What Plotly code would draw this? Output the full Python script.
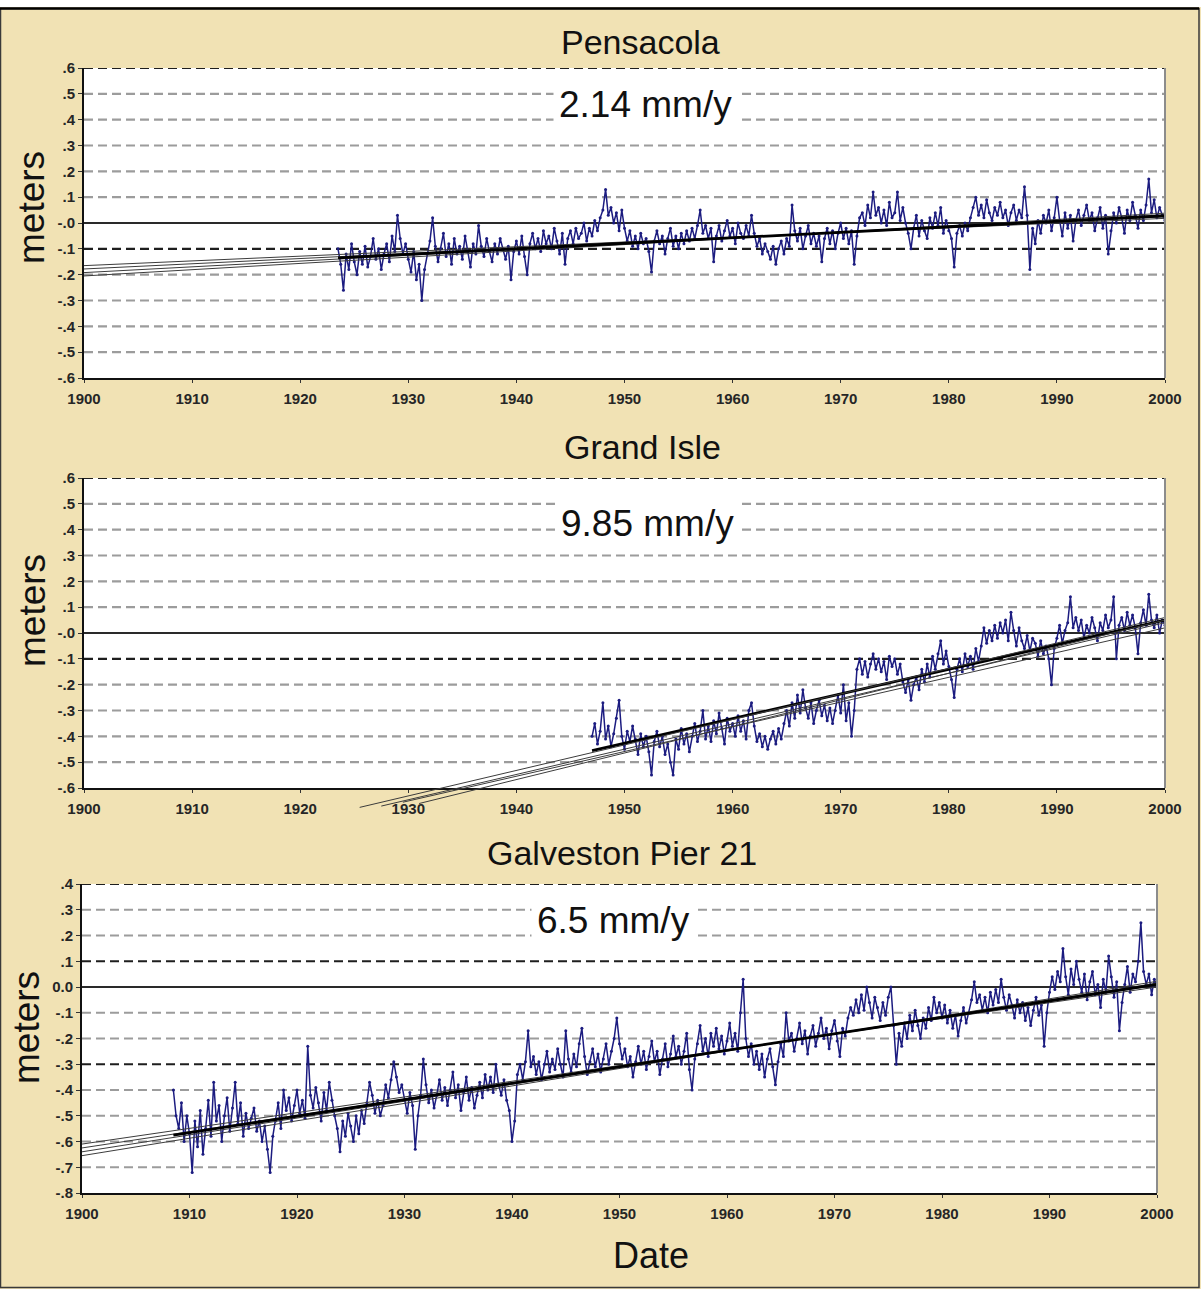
import numpy as np
import plotly.graph_objects as go

# ---------------- data ----------------
pens_start, pens_step = 1923.5, 0.25
pens_level = [
    -0.10, -0.16,
    -0.26, -0.12, -0.18, -0.08,  -0.15, -0.20, -0.11, -0.16,  -0.09, -0.17, -0.13, -0.06,
    -0.14, -0.10, -0.18, -0.12,  -0.08, -0.15, -0.05, -0.11,  0.03, -0.06, -0.12, -0.08,
    -0.14, -0.19, -0.11, -0.22,  -0.16, -0.30, -0.18, -0.12,  -0.07, 0.02, -0.09, -0.15,
    -0.10, -0.04, -0.13, -0.08,  -0.16, -0.06, -0.12, -0.09,  -0.14, -0.05, -0.11, -0.17,
    -0.08, -0.12, -0.01, -0.09,  -0.13, -0.06, -0.11, -0.15,  -0.08, -0.12, -0.06, -0.10,
    -0.14, -0.09, -0.22, -0.11,  -0.07, -0.12, -0.05, -0.13,  -0.20, -0.08, -0.04, -0.10,
    -0.06, -0.11, -0.03, -0.08,  -0.05, -0.10, -0.02, -0.07,  -0.12, -0.04, -0.16, -0.06,
    -0.03, -0.08, -0.02, -0.06,  -0.04, 0.00, -0.07, -0.02,  -0.05, 0.01, -0.03, 0.02,
    0.05, 0.13, 0.03, 0.06,  0.00, 0.04, -0.03, 0.05,  -0.02, -0.07, -0.03, -0.09,
    -0.05, -0.10, -0.04, -0.08,  -0.06, -0.11, -0.19, -0.07,  -0.03, -0.08, -0.05, -0.12,
    -0.06, -0.02, -0.09, -0.05,  -0.10, -0.04, -0.08, -0.03,  -0.07, -0.02, -0.06, -0.01,
    0.05, -0.04, -0.01, -0.06,  -0.02, -0.15, -0.05, -0.01,  -0.07, -0.03, 0.01, -0.05,
    -0.02, -0.08, 0.00, -0.04,  -0.06, -0.01, -0.05, 0.03,  -0.04, -0.09, -0.06, -0.12,
    -0.08, -0.11, -0.14, -0.09,  -0.16, -0.10, -0.07, -0.12,  -0.06, -0.09, 0.07, -0.03,
    -0.07, -0.02, -0.10, -0.05,  -0.01, -0.08, -0.04, -0.09,  -0.05, -0.15, -0.06, -0.02,
    -0.08, -0.03, -0.10, -0.04,  0.00, -0.06, -0.02, -0.08,  -0.03, -0.16, -0.05, 0.02,
    0.04, -0.01, 0.07, 0.02,  0.12, 0.03, 0.06, 0.00,  0.05, -0.01, 0.08, 0.02,
    0.04, 0.12, 0.01, 0.06,  0.00, -0.04, -0.10, -0.02,  0.03, -0.05, 0.01, -0.03,
    -0.06, 0.02, -0.02, 0.04,  -0.01, 0.06, -0.04, 0.01,  -0.03, -0.06, -0.17, -0.04,
    -0.01, -0.05, 0.00, -0.03,  0.02, 0.06, 0.10, 0.03,  0.07, 0.02, 0.09, 0.04,
    0.01, 0.06, 0.03, 0.08,  0.02, 0.05, -0.01, 0.04,  0.07, 0.01, 0.05, 0.02,
    0.14, 0.03, -0.18, -0.02,  -0.08, 0.01, -0.04, 0.03,  0.00, 0.05, -0.03, 0.02,
    0.10, 0.01, -0.05, 0.04,  -0.02, 0.03, -0.07, 0.01,  0.05, -0.01, 0.03, 0.07,
    0.01, 0.04, -0.03, 0.02,  0.06, -0.02, 0.03, -0.12,  -0.03, 0.04, 0.00, 0.06,
    0.02, -0.04, 0.05, 0.01,  0.08, 0.03, -0.02, 0.05,  0.01, 0.07, 0.17, 0.04,
    0.09, 0.02, 0.06, 0.03,
    0.01,
]

grand_start, grand_step = 1947.0, 0.25
grand_level = [
    -0.40, -0.35, -0.43, -0.38,  -0.27, -0.41, -0.36, -0.44,  -0.39, -0.33, -0.26, -0.40,
    -0.45, -0.38, -0.42, -0.36,  -0.41, -0.47, -0.39, -0.44,  -0.40, -0.46, -0.55, -0.42,
    -0.38, -0.44, -0.40, -0.47,  -0.43, -0.50, -0.55, -0.41,  -0.45, -0.37, -0.43, -0.39,
    -0.46, -0.40, -0.35, -0.42,  -0.38, -0.30, -0.41, -0.36,  -0.42, -0.34, -0.39, -0.31,
    -0.37, -0.43, -0.33, -0.38,  -0.35, -0.40, -0.32, -0.38,  -0.34, -0.41, -0.30, -0.27,
    -0.36, -0.42, -0.39, -0.44,  -0.40, -0.45, -0.41, -0.38,  -0.43, -0.37, -0.41, -0.35,
    -0.30, -0.36, -0.27, -0.33,  -0.24, -0.31, -0.22, -0.29,  -0.33, -0.27, -0.35, -0.30,
    -0.26, -0.32, -0.28, -0.34,  -0.29, -0.35, -0.30, -0.24,  -0.31, -0.20, -0.34, -0.27,
    -0.40, -0.30, -0.14, -0.10,  -0.16, -0.11, -0.17, -0.12,  -0.08, -0.14, -0.10, -0.15,
    -0.11, -0.18, -0.09, -0.13,  -0.10, -0.16, -0.12, -0.19,  -0.23, -0.18, -0.26, -0.20,
    -0.17, -0.22, -0.14, -0.19,  -0.12, -0.17, -0.09, -0.14,  -0.08, -0.03, -0.12, -0.07,
    -0.13, -0.18, -0.25, -0.14,  -0.10, -0.15, -0.08, -0.13,  -0.09, -0.14, -0.06, -0.11,
    -0.05, 0.02, -0.04, 0.01,  -0.03, 0.03, -0.02, 0.04,  0.00, 0.05, -0.03, 0.08,
    0.01, -0.05, 0.02, -0.03,  -0.06, -0.01, -0.07, -0.02,  -0.04, -0.09, -0.03, -0.08,
    -0.05, -0.10, -0.20, -0.06,  -0.02, 0.03, -0.04, 0.01,  0.04, 0.14, 0.02, 0.06,
    0.01, 0.05, -0.02, 0.03,  0.00, 0.06, 0.02, -0.03,  0.04, 0.01, 0.07, 0.02,
    0.05, 0.14, -0.10, 0.03,  0.06, 0.01, 0.08, 0.03,  0.07, 0.02, -0.08, 0.04,
    0.09, 0.03, 0.15, 0.05,  0.02, 0.07, 0.00, 0.05,
    0.03,
]

galv_start, galv_step = 1908.5, 0.25
galv_level = [
    -0.40, -0.50,
    -0.55, -0.45, -0.60, -0.50,  -0.57, -0.72, -0.52, -0.62,  -0.48, -0.65, -0.55, -0.44,
    -0.58, -0.37, -0.52, -0.46,  -0.60, -0.50, -0.43, -0.56,  -0.47, -0.37, -0.53, -0.45,
    -0.58, -0.49, -0.55, -0.51,  -0.47, -0.56, -0.52, -0.60,  -0.54, -0.63, -0.72, -0.58,
    -0.52, -0.45, -0.55, -0.40,  -0.48, -0.43, -0.52, -0.46,  -0.40, -0.49, -0.44, -0.51,
    -0.23, -0.42, -0.47, -0.39,  -0.45, -0.52, -0.41, -0.48,  -0.37, -0.44, -0.50, -0.55,
    -0.64, -0.52, -0.58, -0.49,  -0.54, -0.60, -0.50, -0.57,  -0.48, -0.53, -0.45, -0.37,
    -0.42, -0.49, -0.44, -0.50,  -0.46, -0.38, -0.43, -0.36,  -0.29, -0.35, -0.41, -0.38,
    -0.44, -0.49, -0.41, -0.46,  -0.63, -0.50, -0.42, -0.28,  -0.38, -0.45, -0.40, -0.47,
    -0.42, -0.36, -0.44, -0.39,  -0.46, -0.40, -0.33, -0.43,  -0.38, -0.48, -0.41, -0.35,
    -0.44, -0.39, -0.47, -0.42,  -0.37, -0.43, -0.34, -0.40,  -0.35, -0.41, -0.30, -0.38,
    -0.42, -0.36, -0.44, -0.48,  -0.60, -0.52, -0.34, -0.30,  -0.36, -0.29, -0.17, -0.31,
    -0.27, -0.34, -0.29, -0.36,  -0.30, -0.25, -0.33, -0.28,  -0.32, -0.24, -0.30, -0.35,
    -0.17, -0.28, -0.33, -0.26,  -0.31, -0.22, -0.16, -0.27,  -0.34, -0.29, -0.24, -0.31,
    -0.26, -0.33, -0.28, -0.22,  -0.30, -0.25, -0.20, -0.12,  -0.22, -0.28, -0.24, -0.31,
    -0.27, -0.35, -0.29, -0.23,  -0.30, -0.25, -0.32, -0.27,  -0.21, -0.29, -0.25, -0.34,
    -0.28, -0.22, -0.31, -0.26,  -0.19, -0.27, -0.23, -0.30,  -0.25, -0.18, -0.32, -0.40,
    -0.28, -0.22, -0.15, -0.25,  -0.20, -0.27, -0.18, -0.23,  -0.16, -0.24, -0.19, -0.26,
    -0.21, -0.14, -0.23, -0.18,  -0.25, -0.10, 0.03, -0.20,  -0.27, -0.22, -0.30, -0.25,
    -0.32, -0.26, -0.35, -0.28,  -0.24, -0.31, -0.38, -0.29,  -0.22, -0.27, -0.10, -0.21,
    -0.18, -0.25, -0.20, -0.14,  -0.22, -0.17, -0.26, -0.19,  -0.15, -0.23, -0.18, -0.12,
    -0.20, -0.16, -0.24, -0.17,  -0.13, -0.21, -0.27, -0.16,  -0.19, -0.12, -0.08, -0.11,
    -0.05, -0.10, -0.03, -0.09,  0.00, -0.06, -0.12, -0.04,  -0.08, -0.13, -0.06, -0.11,
    -0.04, 0.00, -0.15, -0.30,  -0.18, -0.23, -0.14, -0.20,  -0.11, -0.17, -0.09, -0.15,
    -0.20, -0.12, -0.16, -0.08,  -0.13, -0.04, -0.10, -0.06,  -0.12, -0.07, -0.14, -0.09,
    -0.16, -0.11, -0.19, -0.13,  -0.08, -0.14, -0.10, -0.05,  0.02, -0.06, -0.03, -0.09,
    -0.04, -0.10, -0.02, -0.07,  -0.01, -0.06, 0.03, -0.04,  -0.09, -0.03, -0.07, -0.12,
    -0.05, -0.10, -0.06, -0.13,  -0.08, -0.15, -0.09, -0.04,  -0.11, -0.07, -0.23, -0.10,
    -0.02, 0.04, -0.01, 0.06,  0.02, 0.15, 0.04, -0.03,  0.07, 0.01, 0.10, 0.03,
    -0.02, 0.05, -0.05, 0.02,  0.06, -0.03, 0.01, -0.08,  0.03, -0.02, 0.12, 0.04,
    -0.04, 0.02, -0.17, -0.06,  0.01, 0.08, -0.02, 0.05,  0.02, 0.10, 0.25, 0.06,
    0.01, 0.05, -0.03, 0.03,
    0.00,
]

# fitted trend (thick) and confidence-fan (thin) line end points
pens_trend_years = [1923.5, 2000.0]
pens_trend_vals = [-0.135, 0.028]
pens_fan_start_years = [1900.0, 1900.0, 1900.0, 1900.0]
pens_fan_starts = [-0.165, -0.178, -0.192, -0.205]
pens_fan_ends = [0.018, 0.024, 0.031, 0.038]

grand_trend_years = [1947.0, 2000.0]
grand_trend_vals = [-0.455, 0.05]
grand_fan_start_years = [1925.5, 1927.5, 1929.5, 1931.0]
grand_fan_starts = [-0.675, -0.67, -0.655, -0.66]
grand_fan_ends = [0.06, 0.04, 0.02, 0.05]

galv_trend_years = [1908.5, 2000.0]
galv_trend_vals = [-0.575, 0.01]
galv_fan_start_years = [1900.0, 1900.0, 1900.0, 1900.0]
galv_fan_starts = [-0.61, -0.625, -0.64, -0.655]
galv_fan_ends = [0.0, 0.007, 0.015, 0.022]

titles = ["Pensacola", "Grand Isle", "Galveston Pier 21"]
rates = ["2.14 mm/y", "9.85 mm/y", "6.5 mm/y"]

x_tickvals = [1900, 1910, 1920, 1930, 1940, 1950, 1960, 1970, 1980, 1990, 2000]
x_ticktext = ["1900", "1910", "1920", "1930", "1940", "1950", "1960", "1970", "1980", "1990", "2000"]

y_tickvals_a = [0.6, 0.5, 0.4, 0.3, 0.2, 0.1, 0.0, -0.1, -0.2, -0.3, -0.4, -0.5, -0.6]
y_ticktext_a = [".6", ".5", ".4", ".3", ".2", ".1", "-.0", "-.1", "-.2", "-.3", "-.4", "-.5", "-.6"]
y_tickvals_c = [0.4, 0.3, 0.2, 0.1, 0.0, -0.1, -0.2, -0.3, -0.4, -0.5, -0.6, -0.7, -0.8]
y_ticktext_c = [".4", ".3", ".2", ".1", "0.0", "-.1", "-.2", "-.3", "-.4", "-.5", "-.6", "-.7", "-.8"]

dark_grid = [[0.6, -0.1], [0.6, -0.1], [0.4, 0.1, -0.3]]

# ---------------- layout geometry ----------------
W, H = 1201, 1289
ML, MR, MT, MB = 82, 36, 68, 96
PW, PH = W - ML - MR, H - MT - MB


def px_x(px):
    return (px - ML) / PW


def px_y(py):
    return (H - MB - py) / PH


panels = [
    dict(xd=[px_x(84), px_x(1165)], yd=[px_y(378), px_y(68)], yr=[-0.6, 0.6],
         tv=y_tickvals_a, tt=y_ticktext_a),
    dict(xd=[px_x(84), px_x(1165)], yd=[px_y(788), px_y(478)], yr=[-0.6, 0.6],
         tv=y_tickvals_a, tt=y_ticktext_a),
    dict(xd=[px_x(82), px_x(1157)], yd=[px_y(1193), px_y(884)], yr=[-0.8, 0.4],
         tv=y_tickvals_c, tt=y_ticktext_c),
]

series = [
    (pens_start, pens_step, pens_level, pens_trend_years, pens_trend_vals,
     pens_fan_start_years, pens_fan_starts, pens_fan_ends),
    (grand_start, grand_step, grand_level, grand_trend_years, grand_trend_vals,
     grand_fan_start_years, grand_fan_starts, grand_fan_ends),
    (galv_start, galv_step, galv_level, galv_trend_years, galv_trend_vals,
     galv_fan_start_years, galv_fan_starts, galv_fan_ends),
]

FONT = "Liberation Sans, Arial, sans-serif"
BEIGE = "#f1e2b4"
DATA_COL = "#1c1c80"

fig = go.Figure()
layout = dict(
    width=W, height=H,
    margin=dict(l=ML, r=MR, t=MT, b=MB, pad=0),
    paper_bgcolor=BEIGE,
    plot_bgcolor="rgba(0,0,0,0)",
    showlegend=False,
    font=dict(family=FONT, color="#111"),
)
shapes = []
annotations = []

# extended (invisible) axis for Grand Isle so its fan lines can run below the frame
ext_px = 30
p2 = panels[1]
val_per_px = (p2["yr"][1] - p2["yr"][0]) / 310.0
y4_domain = [p2["yd"][0] - ext_px / PH, p2["yd"][1]]
y4_range = [p2["yr"][0] - ext_px * val_per_px, p2["yr"][1]]

TICKFONT = dict(family=FONT, size=15, color="#262626", weight="bold")

for i, (p, s) in enumerate(zip(panels, series)):
    n = i + 1
    xa = "x" if n == 1 else f"x{n}"
    ya = "y" if n == 1 else f"y{n}"
    xkey = "xaxis" if n == 1 else f"xaxis{n}"
    ykey = "yaxis" if n == 1 else f"yaxis{n}"
    start, step, level, tyears, tvals, fyears, fstarts, fends = s
    years = start + step * np.arange(len(level))

    fig.add_trace(go.Scatter(
        x=years, y=level, mode="lines+markers",
        line=dict(color=DATA_COL, width=1.5),
        marker=dict(color=DATA_COL, size=3),
        xaxis=xa, yaxis=ya, hoverinfo="skip"))

    fan_y = "y4" if n == 2 else ya
    for fy, fs, fe in zip(fyears, fstarts, fends):
        fig.add_trace(go.Scatter(
            x=[fy, 2000.0], y=[fs, fe], mode="lines",
            line=dict(color="#3c3c3c", width=1),
            xaxis=xa, yaxis=fan_y, hoverinfo="skip"))
    fig.add_trace(go.Scatter(
        x=tyears, y=tvals, mode="lines",
        line=dict(color="#000000", width=2.8),
        xaxis=xa, yaxis=ya, hoverinfo="skip"))

    layout[xkey] = dict(
        domain=p["xd"], anchor=ya, range=[1900, 2000],
        tickvals=x_tickvals, ticktext=x_ticktext,
        ticks="outside", ticklen=3, tickcolor="#333", tickwidth=1,
        ticklabelstandoff=3,
        tickfont=TICKFONT,
        showgrid=False, zeroline=False,
        showline=True, linecolor="#111", linewidth=2, mirror=False,
    )
    layout[ykey] = dict(
        domain=p["yd"], anchor=xa, range=p["yr"],
        tickvals=p["tv"], ticktext=p["tt"],
        ticks="outside", ticklen=4, tickcolor="#333", tickwidth=1,
        tickfont=TICKFONT,
        showgrid=False, zeroline=False,
        showline=True, linecolor="#111", linewidth=2, mirror=False,
    )

    # white plot background
    shapes.append(dict(type="rect", xref=f"{xa} domain", yref=f"{ya} domain",
                       x0=0, x1=1, y0=0, y1=1, fillcolor="white",
                       line=dict(width=0), layer="below"))
    # horizontal grid lines
    for v in p["tv"]:
        if abs(v - p["yr"][0]) < 1e-9:
            continue
        if abs(v) < 1e-9:
            ln = dict(color="#2a2a2a", width=2)
        elif any(abs(v - d) < 1e-9 for d in dark_grid[i]):
            ln = dict(color="#1e1e1e", width=2.2, dash="9px,5px")
        else:
            ln = dict(color="#9c9c9c", width=2.2, dash="9px,5px")
        shapes.append(dict(type="line", xref=f"{xa} domain", yref=ya,
                           x0=0, x1=1, y0=v, y1=v, line=ln, layer="below"))
    # right frame edge
    shapes.append(dict(type="line", xref=f"{xa} domain", yref=f"{ya} domain",
                       x0=1, x1=1, y0=0, y1=1,
                       line=dict(color="#8c8c8c", width=2), layer="above"))

layout["yaxis4"] = dict(domain=y4_domain, range=y4_range, anchor="x2",
                        visible=False, showgrid=False, zeroline=False)

# outer frame of the picture
shapes.append(dict(type="rect", xref="paper", yref="paper",
                   x0=px_x(-5), x1=px_x(W + 5), y0=px_y(7), y1=px_y(-5),
                   fillcolor="white", line=dict(width=0), layer="below"))
shapes.append(dict(type="rect", xref="paper", yref="paper",
                   x0=px_x(0.5), x1=px_x(1199), y0=px_y(1287.5), y1=px_y(8.5),
                   fillcolor="rgba(0,0,0,0)", line=dict(color="#3a3a3a", width=1.5),
                   layer="below"))
shapes.append(dict(type="line", xref="paper", yref="paper",
                   x0=px_x(0), x1=px_x(1199), y0=px_y(8.5), y1=px_y(8.5),
                   line=dict(color="#000", width=2.5), layer="below"))

# titles, rate labels, axis titles
title_pos = [(640, 42), (642, 447), (622, 853)]
rate_pos = [(645, 104), (647, 523), (613, 920)]
meters_pos = [(31, 208), (32, 611), (26, 1028)]

for t, (tx, ty) in zip(titles, title_pos):
    annotations.append(dict(text=t, xref="paper", yref="paper",
                            x=px_x(tx), y=px_y(ty), xanchor="center", yanchor="middle",
                            showarrow=False, font=dict(family=FONT, size=34, color="#111")))
for r, (rx, ry) in zip(rates, rate_pos):
    annotations.append(dict(text=r, xref="paper", yref="paper",
                            x=px_x(rx), y=px_y(ry), xanchor="center", yanchor="middle",
                            showarrow=False, bgcolor="white", borderpad=5,
                            font=dict(family=FONT, size=37, color="#111")))
for (mx, my) in meters_pos:
    annotations.append(dict(text="meters", xref="paper", yref="paper",
                            x=px_x(mx), y=px_y(my), xanchor="center", yanchor="middle",
                            textangle=-90, showarrow=False,
                            font=dict(family=FONT, size=37, color="#111")))
annotations.append(dict(text="Date", xref="paper", yref="paper",
                        x=px_x(651), y=px_y(1255), xanchor="center", yanchor="middle",
                        showarrow=False, font=dict(family=FONT, size=36, color="#111")))

layout["shapes"] = shapes
layout["annotations"] = annotations
fig.update_layout(**layout)

fig.write_html("out.html")
